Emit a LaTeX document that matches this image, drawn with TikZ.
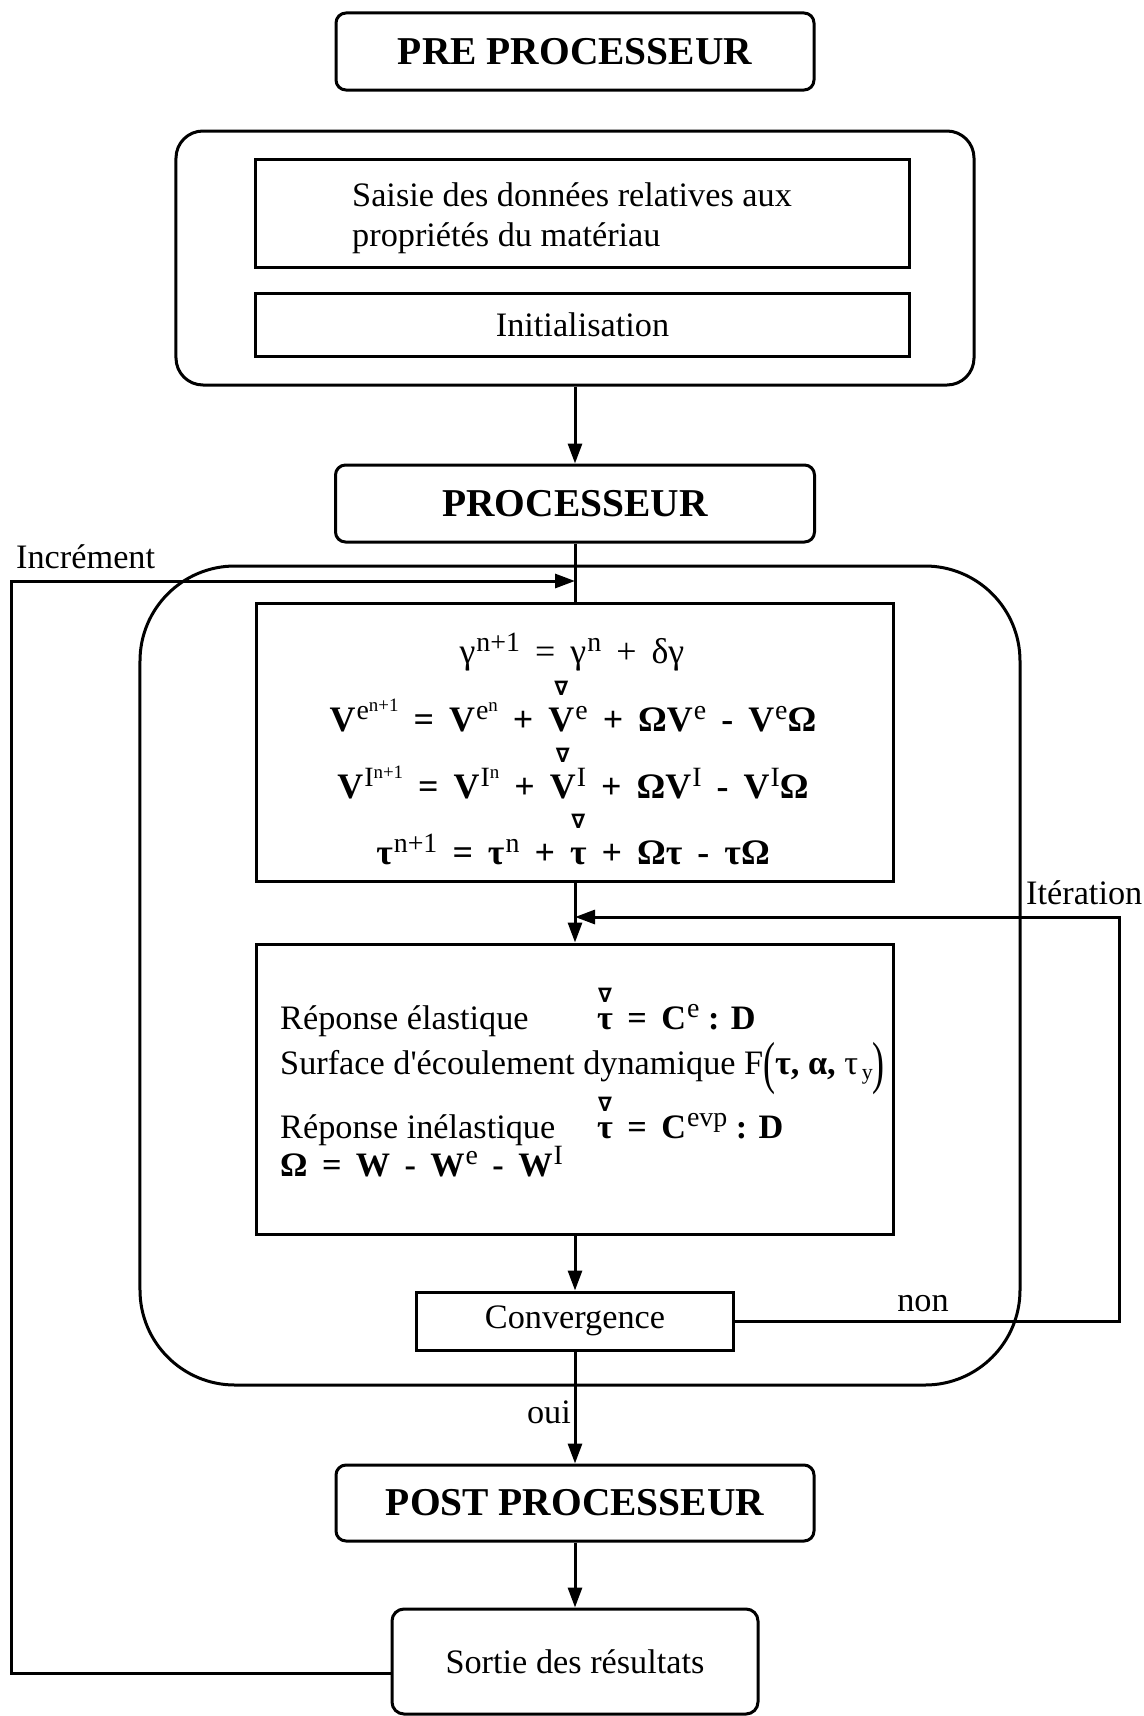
\documentclass[tikz,border=0pt]{standalone}
\usepackage{fontspec}
\setmainfont{Liberation Serif}
\newfontfamily\symfont{DejaVu Sans}
\usetikzlibrary{arrows.meta}
% first-level and second-level superscripts
\newcommand\spA[1]{\hspace{1bp}\raisebox{12bp}{\fontsize{28}{28}\selectfont\mdseries #1}}
\newcommand\spB[1]{\raisebox{8bp}{\fontsize{19}{19}\selectfont\mdseries #1}}
\newcommand\nablasym{{\symfont\fontsize{20}{20}\selectfont ∇}}
\newcommand\objr[2][36]{\setbox0\hbox{#2}\rlap{\hbox to\wd0{\hss\raisebox{#1bp}[0pt][0pt]{\nablasym}\hss}}\box0}
\newcommand\gp{\hspace{0.42em}}
\newcommand\bigparen[1]{\raisebox{-0.26em}{\scalebox{1.05}[1.69]{#1}}}
\tikzset{
  box/.style={draw, line width=3bp, inner sep=0pt},
  rbox/.style={box, rounded corners=10bp},
  flow/.style={line width=3bp, -{Triangle[length=20bp,width=14bp]}},
  plain/.style={line width=3bp},
  txt/.style={font=\fontsize{34.4}{41}\selectfont, inner sep=0pt},
  head/.style={font=\fontsize{39.6}{44}\selectfont\bfseries},
  eq/.style={font=\fontsize{36}{40}\selectfont, inner sep=0pt, anchor=base},
  lbl/.style={font=\fontsize{34.4}{40}\selectfont, inner sep=0pt},
}
\begin{document}
\begin{tikzpicture}[x=1bp,y=-1bp]
\useasboundingbox (0,0) rectangle (1143,1716);
% pre processor
\node[rbox, head, minimum width=478bp, minimum height=77bp] (pre) at (575,51.5) {\raisebox{-3bp}{PRE PROCESSEUR}};
\node[box, rounded corners=27bp, minimum width=798bp, minimum height=254bp] (preframe) at (575,258) {};
\node[box, minimum width=653bp, minimum height=108bp] (saisie) at (582.5,213) {};
\node[txt, align=left, anchor=north west] (saisieT) at (352,182) {Saisie des données relatives aux\\propriétés du matériau};
\node[box, txt, minimum width=653bp, minimum height=63bp] (init) at (582.5,324.5) {Initialisation};
% processor
\node[rbox, head, minimum width=479bp, minimum height=77bp] (proc) at (575,503.5) {\raisebox{-3bp}{PROCESSEUR}};
\draw[flow] (preframe.south) -- (proc.north);
\node[box, rounded corners=95bp, minimum width=880bp, minimum height=819bp] (procframe) at (580,975.5) {};
\node[box, minimum width=636bp, minimum height=278bp] (eqbox) at (575,742) {};
\draw[plain] (proc.south) -- (eqbox.north);
\node[eq] (eqA) at (572,663) {γ\spA{n+1}\gp=\gp γ\spA{n}\gp+\gp δγ};
\node[eq] (eqB) at (573,731) {\bfseries V\spA{e\spB{n+1}}\gp=\gp V\spA{e\spB{n}}\gp+\gp \objr{V}\spA{e}\gp+\gp ΩV\spA{e}\gp-\gp V\spA{e}Ω};
\node[eq] (eqC) at (573,798) {\bfseries V\spA{I\spB{n+1}}\gp=\gp V\spA{I\spB{n}}\gp+\gp \objr{V}\spA{I}\gp+\gp ΩV\spA{I}\gp-\gp V\spA{I}Ω};
\node[eq] (eqD) at (573,864) {\bfseries τ\spA{n+1}\gp=\gp τ\spA{n}\gp+\gp \objr{τ}\gp+\gp Ωτ\gp-\gp τΩ};
% response box
\node[box, minimum width=636bp, minimum height=290bp] (resp) at (575,1089) {};
\draw[flow] (eqbox.south) -- (resp.north);
\node[lbl, anchor=base west] (rA) at (280,1029) {Réponse élastique};
\node[lbl, anchor=base west] (rAf) at (597,1029) {\bfseries \objr[27]{τ}\gp=\gp C\spA{e} : D};
\node[lbl, anchor=base west] (rB) at (280,1074) {Surface d\textquotesingle écoulement dynamique F\bigparen{(}\textbf{τ, α,} τ\raisebox{-5bp}{\fontsize{22}{22}\selectfont\,y}\bigparen{)}};
\node[lbl, anchor=base west] (rC) at (280,1138) {Réponse inélastique};
\node[lbl, anchor=base west] (rCf) at (597,1138) {\bfseries \objr[27]{τ}\gp=\gp C\spA{evp} : D};
\node[lbl, anchor=base west] (rD) at (280,1176) {\bfseries Ω\gp=\gp W\gp-\gp W\spA{e}\gp-\gp W\spA{I}};
% convergence
\node[box, txt, minimum width=317bp, minimum height=58bp] (conv) at (575,1321) {Convergence};
\draw[flow] (resp.south) -- (conv.north);
% post processor
\node[rbox, head, minimum width=478bp, minimum height=76bp] (post) at (575,1503) {\raisebox{-3bp}{POST PROCESSEUR}};
\draw[flow] (conv.south) -- (post.north);
\node[lbl, anchor=base east] (oui) at (571,1423) {oui};
\node[rbox, txt, rounded corners=12bp, minimum width=366bp, minimum height=105bp] (sortie) at (575,1661.5) {Sortie des résultats};
\draw[flow] (post.south) -- (sortie.north);
% increment loop
\coordinate (incC) at (11,581);
\coordinate (incE) at (575,581);
\draw[flow] ([yshift=-12bp]sortie.west) -| (incC) -- (incE);
\node[lbl, anchor=base west] (inc) at (16,568) {Incrément};
% iteration loop
\coordinate (itC) at (1119,917);
\coordinate (itE) at (575,917);
\draw[flow] (conv.east) -| (itC) -- (itE);
\node[lbl, anchor=base west] (it) at (1026,904) {Itération};
\node[lbl, anchor=base] (non) at (923,1311) {non};
\end{tikzpicture}
\end{document}
